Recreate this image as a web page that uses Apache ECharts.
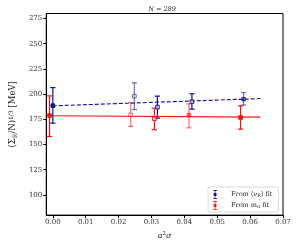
<!DOCTYPE html>
<html>
<head>
<meta charset="utf-8">
<script src="https://cdn.jsdelivr.net/npm/echarts@6/dist/echarts.min.js"></script>
<style>
html,body{margin:0;padding:0;background:#fff;}
#c{width:296px;height:245px;}
</style>
</head>
<body>
<div id="c"></div>
<script>
// ---- data ----
const blueX  = [0.0, 0.0248, 0.0318, 0.0423, 0.058];
const blueY  = [188.6, 198.0, 187.1, 192.4, 195.0];
const blueLo = [171.2, 184.7, 176.2, 185.1, 189.1];
const blueHi = [206.5, 211.2, 198.0, 200.3, 201.6];

const redX  = [-0.001, 0.0237, 0.0309, 0.0414, 0.0571];
const redY  = [178.8, 179.5, 175.5, 179.2, 176.8];
const redLo = [158.0, 168.0, 164.7, 166.6, 165.3];
const redHi = [198.3, 191.7, 186.1, 190.4, 188.4];

const blueFitX = [0.0, 0.0631];
const blueFitY = [188.4, 195.6];
const redFitX  = [-0.001, 0.0631];
const redFitY  = [178.6, 177.2];

const yTicks = [100, 125, 150, 175, 200, 225, 250, 275];
const xTicks = [0.00, 0.01, 0.02, 0.03, 0.04, 0.05, 0.06, 0.07];

const titleText = 'N = 289';
const blueName = 'From ⟨ν_R⟩ fit';
const redName = 'From m_π fit';

// ---- styles ----
const BLUE = '#10108a';
const RED = '#ff1010';
const blueAlpha = [1, 0.6, 1, 1, 0.6];
const redAlpha  = [1, 0.6, 1, 0.6, 1];
const blueHollow = [false, true, true, true, false];
const redHollow  = [false, true, true, false, false];
const SERIF = '"DejaVu Serif", "Liberation Serif", serif';

function errData(xs, ys, lo, hi){ return xs.map((x,i)=>[x, ys[i], lo[i], hi[i], i]); }

function makeRender(color, alphas, hollow){
  return function(params, api){
    const x = api.value(0), y = api.value(1), lo = api.value(2), hi = api.value(3), i = api.value(4);
    const pc = api.coord([x, y]);
    const pl = api.coord([x, lo]);
    const ph = api.coord([x, hi]);
    const cw = 2.6, ms = 1.8;
    const st = {stroke: color, lineWidth: 1.2, opacity: alphas[i]};
    return {
      type: 'group',
      children: [
        {type:'line', shape:{x1:pc[0], y1:pl[1], x2:pc[0], y2:ph[1]}, style: st},
        {type:'line', shape:{x1:pc[0]-cw, y1:pl[1], x2:pc[0]+cw, y2:pl[1]}, style: st},
        {type:'line', shape:{x1:pc[0]-cw, y1:ph[1], x2:pc[0]+cw, y2:ph[1]}, style: st},
        {type:'rect', shape:{x:pc[0]-ms, y:pc[1]-ms, width:2*ms, height:2*ms},
         style:{fill: hollow[i] ? 'rgba(255,255,255,0.6)' : color, stroke: color, lineWidth: 1, opacity: alphas[i]}}
      ]
    };
  };
}

const ebIcon = 'path://M0,0h6v1h-6z M2.5,0h1v13h-1z M0,12h6v1h-6z M1,4.5h4v4h-4z';

const chart = echarts.init(document.getElementById('c'), null, {renderer:'canvas'});
chart.setOption({
  animation: false,
  backgroundColor: '#fff',
  title: {
    text: titleText, left: 157, top: 1, textAlign: 'center',
    textStyle: {fontFamily: SERIF, fontSize: 6.5, fontStyle: 'italic', fontWeight: 'normal', color: '#222'}
  },
  grid: {left: 36, right: 13, top: 13.5, bottom: 29.3, show: true, borderColor: '#000', borderWidth: 1},
  legend: {
    left: 208, top: 187, width: 72, orient: 'vertical',
    backgroundColor: '#fff', borderColor: '#d0d0d0', borderWidth: 0.8, borderRadius: 2,
    padding: [3, 6, 2, 5], itemGap: 2, itemWidth: 6, itemHeight: 9,
    data: [
      {name: blueName, icon: ebIcon, itemStyle: {color: BLUE}},
      {name: redName, icon: ebIcon, itemStyle: {color: RED}}
    ],
    formatter: function(n){
      if (n === blueName) return '{a|From ⟨ν}{s|R}{a|⟩ fit}';
      return '{a|From m}{s|π}{a| fit}';
    },
    textStyle: {
      fontFamily: SERIF, fontSize: 6.5, color: '#222', padding: [0,0,0,8],
      rich: {
        a: {fontFamily: SERIF, fontSize: 6.5, color: '#222'},
        s: {fontFamily: SERIF, fontSize: 4.8, color: '#222', verticalAlign: 'bottom', padding: [3,0,0,0]}
      }
    }
  },
  xAxis: {
    type: 'value', min: -0.002, max: 0.07,
    name: '{i|a}{s|2}{i|σ}', nameLocation: 'middle', nameGap: 15,
    nameTextStyle: {
      fontFamily: SERIF, fontSize: 8, color: '#222',
      rich: {
        i: {fontFamily: SERIF, fontSize: 8, fontStyle: 'italic', color: '#222'},
        s: {fontFamily: SERIF, fontSize: 5.5, color: '#222', verticalAlign: 'top', padding: [0,0,4,0]}
      }
    },
    axisLine: {show: true, onZero: false, lineStyle: {color: '#000', width: 1}},
    axisTick: {show: true, length: 3, lineStyle: {color: '#000'}, customValues: xTicks},
    axisLabel: {
      customValues: xTicks, margin: 4,
      formatter: v => v.toFixed(2),
      fontFamily: SERIF, fontSize: 7, color: '#333'
    },
    splitLine: {show: false}
  },
  yAxis: {
    type: 'value', min: 80, max: 280,
    name: '{a|(Σ}{s|R}{a|/N)}{p|1/3}{a| [MeV]}', nameLocation: 'middle', nameGap: 26, nameRotate: 90,
    nameTextStyle: {
      fontFamily: SERIF, fontSize: 8.5, color: '#222',
      rich: {
        a: {fontFamily: SERIF, fontSize: 8.5, color: '#222'},
        s: {fontFamily: SERIF, fontSize: 6, color: '#222', verticalAlign: 'bottom', padding: [3,0,0,0]},
        p: {fontFamily: SERIF, fontSize: 6, color: '#222', verticalAlign: 'top', padding: [0,0,4,0]}
      }
    },
    axisLine: {show: true, onZero: false, lineStyle: {color: '#000', width: 1}},
    axisTick: {show: true, length: 3, lineStyle: {color: '#000'}, customValues: yTicks},
    axisLabel: {
      customValues: yTicks, margin: 4,
      fontFamily: SERIF, fontSize: 7, color: '#333'
    },
    splitLine: {show: false}
  },
  series: [
    {
      type: 'line', name: 'blueFit', data: blueFitX.map((x,i)=>[x, blueFitY[i]]),
      showSymbol: false, silent: true, z: 2,
      lineStyle: {color: BLUE, width: 1.1, type: [4, 2]}
    },
    {
      type: 'line', name: 'redFit', data: redFitX.map((x,i)=>[x, redFitY[i]]),
      showSymbol: false, silent: true, z: 2,
      lineStyle: {color: RED, width: 1.1}
    },
    {
      type: 'custom', name: blueName, data: errData(blueX, blueY, blueLo, blueHi),
      renderItem: makeRender(BLUE, blueAlpha, blueHollow), itemStyle: {color: BLUE}, z: 3,
      encode: {x: 0, y: [1, 2, 3]}
    },
    {
      type: 'custom', name: redName, data: errData(redX, redY, redLo, redHi),
      renderItem: makeRender(RED, redAlpha, redHollow), itemStyle: {color: RED}, z: 3,
      encode: {x: 0, y: [1, 2, 3]}
    }
  ]
});
</script>
</body>
</html>
